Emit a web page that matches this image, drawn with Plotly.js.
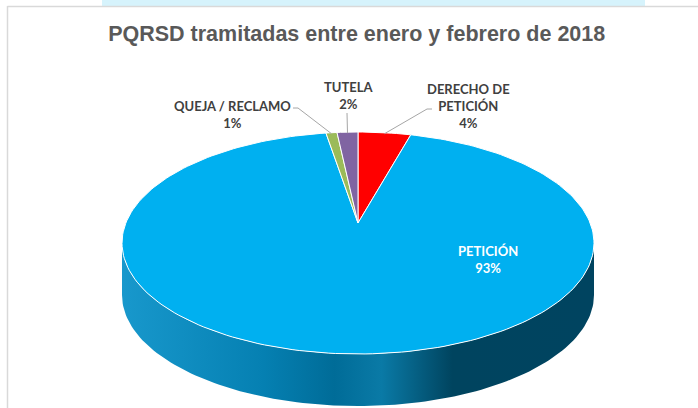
<!DOCTYPE html>
<html><head><meta charset="utf-8">
<script src="https://cdn.plot.ly/plotly-3.0.1.min.js"></script>
<style>html,body{margin:0;padding:0;background:#fff;}#chart{width:698px;height:408px;}</style>
</head><body><div id="chart"></div>
<script>
// ---- data ----
const categories = ['DERECHO DE PETICIÓN', 'PETICIÓN', 'QUEJA / RECLAMO', 'TUTELA'];
const values = [4.3, 93.1, 0.9, 1.7];
const colors = ['#ff0000', '#00b0f0', '#9bbb59', '#8064a2'];
const titleText = 'PQRSD tramitadas entre enero y febrero de 2018';

// ---- layout constants (pixel space) ----
const G = {cx: 358, cy: 243, rx: 236, ry: 111, depth: 52, k: -20 / 111};
const sx = G.rx * Math.sqrt(1 - G.k * G.k), sy = G.ry * (1 - G.k * G.k);
const apexY = G.cy + G.k * G.ry;
function proj(theta) { // degrees clockwise from 12 o'clock, perspective circle -> ellipse
  const t = theta * Math.PI / 180, u = Math.sin(t), v = -Math.cos(t), w = 1 + G.k * v;
  return [G.cx + sx * u / w, apexY + sy * v / w];
}
// label placement per category: center, color, wrap, leader start (with stub)
const labelLayout = [
  {x: 468, y: 106, color: '#404040', wrap: 10, leader: [[432, 109], [427, 109]]},
  {x: 488, y: 259, color: '#ffffff', wrap: 20, leader: null},
  {x: 232, y: 114, color: '#404040', wrap: 20, leader: [[293, 108], [298, 108]]},
  {x: 348, y: 95, color: '#404040', wrap: 20, leader: [[347, 113]]}
];
function wrapText(s, n) {
  const words = s.split(' '); const lines = []; let cur = '';
  words.forEach(w => { if (cur && (cur + ' ' + w).length > n) { lines.push(cur); cur = w; } else cur = cur ? cur + ' ' + w : w; });
  if (cur) lines.push(cur); return lines.join('<br>');
}

const traces = [];
// side wall
const sideX = [], sideY = [];
for (let i = 0; i <= 120; i++) { const p = Math.PI - Math.PI * i / 120; sideX.push(G.cx + G.rx * Math.cos(p)); sideY.push(G.cy + G.ry * Math.sin(p)); }
for (let i = 0; i <= 120; i++) { const p = Math.PI * i / 120; sideX.push(G.cx + G.rx * Math.cos(p)); sideY.push(G.cy + G.depth + G.ry * Math.sin(p)); }
traces.push({type: 'scatter', mode: 'lines', x: sideX, y: sideY, fill: 'toself', hoverinfo: 'skip',
  line: {width: 0, color: 'rgba(0,0,0,0)'},
  fillgradient: {type: 'horizontal', colorscale: [[0, '#1898cc'], [0.3, '#0580b2'], [0.45, '#006c98'], [0.55, '#0a7aa6'], [0.7, '#00445f'], [1, '#004460']]}});

// slices
const total = values.reduce((a, b) => a + b, 0);
let acc = 0;
const mids = [];
values.forEach((v, i) => {
  const a0 = acc / total * 360, a1 = (acc + v) / total * 360; acc += v;
  mids.push((a0 + a1) / 2);
  const xs = [G.cx], ys = [apexY];
  const n = Math.max(6, Math.ceil((a1 - a0) / 1.5));
  for (let j = 0; j <= n; j++) { const p = proj(a0 + (a1 - a0) * j / n); xs.push(p[0]); ys.push(p[1]); }
  xs.push(G.cx); ys.push(apexY);
  traces.push({type: 'scatter', mode: 'lines', x: xs, y: ys, fill: 'toself', fillcolor: colors[i],
    line: {color: '#ffffff', width: 1}, hoverinfo: 'skip', name: categories[i]});
});

// labels and leader lines
const annotations = [];
values.forEach((v, i) => {
  const L = labelLayout[i];
  const pct = Math.round(v / total * 100);
  annotations.push({x: L.x, y: L.y, xref: 'x', yref: 'y', showarrow: false,
    text: '<b>' + wrapText(categories[i], L.wrap) + '<br>' + pct + '%</b>',
    font: {family: 'Lato, Carlito, sans-serif', size: 13, color: L.color}, align: 'center', xanchor: 'center', yanchor: 'middle'});
  if (L.leader) {
    const end = proj(mids[i]);
    const xs = L.leader.map(p => p[0]).concat([end[0]]);
    const ys = L.leader.map(p => p[1]).concat([end[1] + 1]);
    traces.push({type: 'scatter', mode: 'lines', x: xs, y: ys, line: {color: '#a6a6a6', width: 1}, hoverinfo: 'skip'});
  }
});

const layout = {
  width: 698, height: 408, margin: {l: 0, r: 0, t: 0, b: 0},
  paper_bgcolor: '#ffffff', plot_bgcolor: '#ffffff', showlegend: false,
  xaxis: {range: [0, 698], visible: false, fixedrange: true},
  yaxis: {range: [408, 0], visible: false, fixedrange: true},
  title: {text: '<b>' + titleText + '</b>', x: 0.511, xanchor: 'center', y: 1 - 33 / 408, yanchor: 'middle', yref: 'container',
    font: {family: 'Liberation Sans, Arial, sans-serif', size: 21.5, color: '#595959'}},
  annotations: annotations,
  shapes: [
    {type: 'rect', xref: 'paper', yref: 'paper', x0: 102 / 698, x1: 645 / 698, y0: 1 - 6 / 408, y1: 1, fillcolor: '#d6f3fc', line: {width: 0}, layer: 'below'},
    {type: 'line', xref: 'paper', yref: 'paper', x0: 7.5 / 698, x1: 7.5 / 698, y0: 0, y1: 1 - 6 / 408, line: {color: '#d9d9d9', width: 1.5}},
    {type: 'line', xref: 'paper', yref: 'paper', x0: 7.5 / 698, x1: 1, y0: 1 - 6.5 / 408, y1: 1 - 6.5 / 408, line: {color: '#d9d9d9', width: 1.5}}
  ]
};
Plotly.newPlot('chart', traces, layout, {displayModeBar: false, staticPlot: true});
</script></body></html>
